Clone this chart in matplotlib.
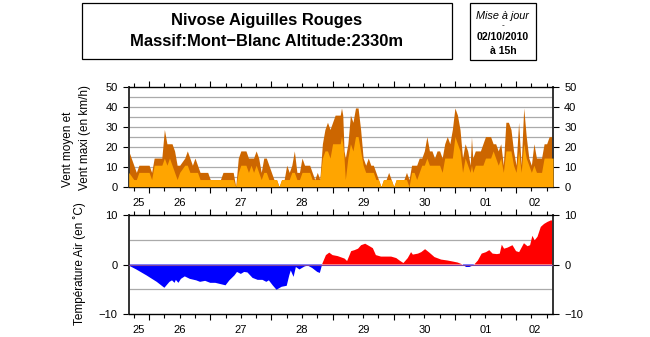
import matplotlib
matplotlib.use("Agg")
import matplotlib.pyplot as plt
from matplotlib.patches import Rectangle
import numpy as np

plt.rcParams['font.family'] = ['Liberation Sans', 'DejaVu Sans']

# hours counted from 25/09 16h
wind_hours = [0, 2, 3, 4, 8, 9, 10, 13, 14, 15, 16, 17, 18, 19, 20, 22, 23, 24, 25, 26,
              27, 28, 31, 32, 36, 37, 41, 42, 43, 44, 46, 47, 48, 49, 50, 51, 52, 53, 54, 55,
              56, 57, 58, 59, 60, 61, 62, 63, 64, 65, 66, 67, 68, 69, 71, 72, 73, 74, 75, 76,
              77, 78, 79, 80, 81, 83, 83.5, 84, 84.5, 85, 86, 87, 88, 89, 90, 91, 92, 93, 94, 95,
              96, 97, 98, 99, 100, 101, 102, 103, 104, 105, 108, 109, 110, 111, 112, 113, 114, 115, 116, 117,
              118, 119, 120, 121, 122, 123, 124, 125, 126, 127, 128, 129, 130, 131, 132, 133, 134, 134.5, 135, 136,
              138, 139, 140, 142, 143, 144, 145, 146, 147, 148, 149, 150, 151, 152, 153, 154, 155, 156, 157, 158,
              159, 160, 162, 163, 164, 165, 166.5]
wind_max = [18.0, 10.8, 7.2, 10.8, 10.8, 7.2, 14.4, 14.4, 28.8, 21.6, 21.6, 21.6, 18.0, 10.8, 10.8, 14.4, 18.0, 14.4, 10.8, 14.4,
            10.8, 7.2, 7.2, 3.6, 3.6, 7.2, 7.2, 0.0, 14.4, 18.0, 18.0, 14.4, 14.4, 14.4, 18.0, 14.4, 7.2, 14.4, 14.4, 10.8,
            7.2, 3.6, 3.6, 0.0, 3.6, 3.6, 10.8, 7.2, 10.8, 18.0, 7.2, 7.2, 14.4, 10.8, 10.8, 7.2, 3.6, 7.2, 3.6, 21.6,
            28.8, 32.4, 28.8, 32.4, 36.0, 36.0, 39.6, 36.0, 18.0, 14.4, 21.6, 36.0, 32.4, 39.6, 39.6, 28.8, 14.4, 10.8, 14.4, 10.8,
            10.8, 7.2, 3.6, 0.0, 3.6, 3.6, 7.2, 3.6, 0.0, 3.6, 3.6, 7.2, 3.6, 10.8, 10.8, 10.8, 14.4, 14.4, 18.0, 25.2,
            18.0, 18.0, 14.4, 18.0, 18.0, 14.4, 21.6, 25.2, 21.6, 28.8, 39.6, 36.0, 28.8, 14.4, 21.6, 18.0, 10.8, 25.2, 14.4, 18.0,
            18.0, 21.6, 25.2, 25.2, 21.6, 21.6, 18.0, 21.6, 10.8, 32.4, 32.4, 28.8, 18.0, 10.8, 32.4, 10.8, 39.6, 25.2, 14.4, 10.8,
            21.6, 14.4, 14.4, 21.6, 21.6, 25.2, 25.2]
wind_mean = [7.2, 3.6, 3.6, 7.2, 7.2, 3.6, 10.8, 10.8, 14.4, 10.8, 14.4, 10.8, 7.2, 3.6, 7.2, 10.8, 10.8, 7.2, 7.2, 7.2,
             7.2, 3.6, 3.6, 3.6, 3.6, 3.6, 3.6, 0.0, 7.2, 10.8, 10.8, 7.2, 10.8, 7.2, 10.8, 7.2, 3.6, 7.2, 7.2, 3.6,
             3.6, 3.6, 3.6, 0.0, 3.6, 3.6, 3.6, 3.6, 7.2, 7.2, 3.6, 3.6, 7.2, 7.2, 7.2, 3.6, 3.6, 3.6, 3.6, 14.4,
             18.0, 18.0, 14.4, 21.6, 21.6, 21.6, 25.2, 21.6, 14.4, 3.6, 14.4, 21.6, 18.0, 25.2, 25.2, 18.0, 10.8, 7.2, 7.2, 7.2,
             7.2, 3.6, 3.6, 0.0, 3.6, 3.6, 3.6, 3.6, 0.0, 3.6, 3.6, 3.6, 0.0, 7.2, 7.2, 3.6, 7.2, 10.8, 10.8, 14.4,
             10.8, 10.8, 10.8, 10.8, 10.8, 7.2, 14.4, 14.4, 14.4, 14.4, 25.2, 21.6, 18.0, 7.2, 14.4, 10.8, 7.2, 10.8, 7.2, 10.8,
             10.8, 10.8, 14.4, 14.4, 18.0, 14.4, 10.8, 14.4, 7.2, 18.0, 18.0, 18.0, 10.8, 7.2, 18.0, 7.2, 21.6, 14.4, 10.8, 7.2,
             10.8, 7.2, 7.2, 14.4, 14.4, 14.4, 14.4]

temp_hours = [0, 3, 7, 11, 14, 16, 17, 18, 18.5, 19.5, 20.5, 22, 24, 26.5, 28, 30, 32, 34, 38, 39.5,
              41.5, 42.5, 44, 45.3, 46.6, 48.6, 50.6, 52.5, 54, 55, 56.5, 58, 60, 62, 63, 63.6, 64.7, 65.6, 67, 69,
              70.2, 72, 74, 75, 76, 77.4, 78.7, 80, 82, 84.7, 85.7, 87.3, 88.6, 90, 91.2, 92.8, 94.5, 95.8, 97, 99,
              103, 105, 106.3, 107.8, 109.5, 110.8, 111.5, 113.5, 114.8, 116.3, 118, 120, 122.6, 125.2, 127.2, 129.1, 131, 132.4, 133.7, 135,
              135.6, 137, 138.5, 140.2, 141.5, 142.8, 144.5, 145.6, 146.4, 147.3, 148.6, 150.6, 152, 153.2, 155.1, 156.5, 157.5, 158.4, 159.3, 160.4,
              161.7, 163, 164.3, 165.6, 166.5]
temp = [-0.2, -1.0, -2.2, -3.5, -4.7, -3.5, -3.2, -3.7, -3.1, -3.7, -2.9, -2.4, -2.9, -3.2, -3.5, -3.3, -3.7, -3.7, -4.2, -3.2,
        -2.2, -1.5, -1.9, -1.5, -1.6, -2.7, -3.1, -3.1, -3.5, -3.2, -4.2, -5.1, -4.5, -4.3, -2.2, -1.2, -2.5, -0.5, -1.0, -0.4,
        -0.2, -0.7, -1.5, -1.7, 0.2, 1.9, 2.4, 1.9, 1.7, 1.2, 0.7, 2.7, 2.9, 3.2, 3.9, 4.2, 3.7, 3.3, 1.9, 1.6,
        1.6, 1.3, 0.8, 0.3, 1.3, 2.5, 2.0, 2.2, 2.5, 3.1, 2.4, 1.5, 1.0, 0.8, 0.6, 0.4, 0.0, -0.5, -0.5, -0.2,
        0.0, 0.8, 2.2, 2.5, 2.9, 2.2, 2.1, 2.2, 4.0, 3.2, 3.4, 3.9, 2.7, 2.5, 4.3, 3.7, 3.9, 5.8, 4.9, 5.6,
        7.6, 8.2, 8.6, 8.9, 8.9]

day_labels = ['25', '26', '27', '28', '29', '30', '01', '02']
first_midnight = 8      # 26/09 00h
t_end = 166.5

COL_MAX = '#CC6600'
COL_MEAN = '#FFA500'


def style_axis(ax, ymin, ymax, ymajor, ygrid):
    ax.set_xlim(0, t_end)
    ax.set_ylim(ymin, ymax)
    midnights = np.arange(first_midnight, t_end, 24)
    ax.set_xticks(midnights)
    ax.set_xticks(np.arange(first_midnight - 6, t_end, 6), minor=True)
    ax.set_yticks(ymajor)
    for g in ygrid:
        ax.axhline(g, color='#aaaaaa', lw=0.9, zorder=0)
    ax.tick_params(axis='x', which='both', direction='out', top=True, bottom=True,
                   labelbottom=False, labeltop=False, width=0.8)
    ax.tick_params(axis='x', which='major', length=4)
    ax.tick_params(axis='x', which='minor', length=3)
    ax.tick_params(axis='y', direction='out', left=True, right=True, labelleft=True,
                   labelright=True, length=4, width=0.8, labelsize=8, pad=4)
    for s in ['left', 'right']:
        ax.spines[s].set_linewidth(1.4)
        ax.spines[s].set_color('#333333')
    for s in ['top', 'bottom']:
        ax.spines[s].set_linewidth(1.0)

    # day names centered on the visible part of each day
    starts = [0] + list(midnights)
    ends = list(midnights) + [t_end]
    for lab, a, b in zip(day_labels, starts, ends):
        ax.text((a + b) / 2.0, -0.165, lab, transform=ax.get_xaxis_transform(),
                ha='center', va='center', fontsize=8)


fig = plt.figure(figsize=(6.5, 3.37), dpi=100)

ax1 = fig.add_axes([0.198, 0.446, 0.6528, 0.295])
style_axis(ax1, 0, 50, range(0, 51, 10), range(5, 50, 5))
ax1.fill_between(wind_hours, 0, wind_max, color=COL_MAX, lw=0, zorder=2)
ax1.fill_between(wind_hours, 0, wind_mean, color=COL_MEAN, lw=0, zorder=3)

ax2 = fig.add_axes([0.198, 0.0682, 0.6528, 0.2938])
style_axis(ax2, -10, 10, [-10, 0, 10], [-5, 5])
t = np.array(temp)
ax2.fill_between(temp_hours, 0, t, where=t >= 0, interpolate=True, color='#FF0000', lw=0, zorder=2)
ax2.fill_between(temp_hours, 0, t, where=t <= 0, interpolate=True, color='#0000FF', lw=0, zorder=2)
ax2.axhline(0, color='#8040A0', lw=0.8, zorder=3)
ax2.set_yticklabels(['\u221210', '0', '10'])

# axis titles
fig.text(68 / 650, 1 - 149 / 337, 'Vent moyen et', rotation=90, ha='center', va='center', fontsize=8.5)
fig.text(85 / 650, 1 - 137.5 / 337, 'Vent maxi (en km/h)', rotation=90, ha='center', va='center', fontsize=8.5)
fig.text(80 / 650, 1 - 264 / 337, 'Température Air (en \u02daC)', rotation=90, ha='center', va='center', fontsize=8.5)

# header boxes
fig.patches.append(Rectangle((81.7 / 650, 1 - 59.3 / 337), 370 / 650, 56.6 / 337,
                             transform=fig.transFigure, fill=False, ec='black', lw=0.9))
fig.patches.append(Rectangle((470 / 650, 1 - 60 / 337), 65.7 / 650, 57.3 / 337,
                             transform=fig.transFigure, fill=False, ec='black', lw=0.9))

fig.text(266.7 / 650, 1 - 20.7 / 337, 'Nivose Aiguilles Rouges', ha='center', va='center',
         fontsize=11.9, fontweight='bold')
fig.text(266.7 / 650, 1 - 41.7 / 337, 'Massif:Mont\u2212Blanc Altitude:2330m', ha='center', va='center',
         fontsize=11.9, fontweight='bold')

fig.text(502.9 / 650, 1 - 15.7 / 337, 'Mise à jour', ha='center', va='center', fontsize=7.8, style='italic')
fig.text(502.9 / 650, 1 - 26 / 337, '-', ha='center', va='center', fontsize=6)
fig.text(502.9 / 650, 1 - 37.5 / 337, '02/10/2010', ha='center', va='center', fontsize=7.6, fontweight='bold')
fig.text(502.9 / 650, 1 - 50.5 / 337, 'à 15h', ha='center', va='center', fontsize=7.6, fontweight='bold')

fig.savefig('out.png', dpi=100)
